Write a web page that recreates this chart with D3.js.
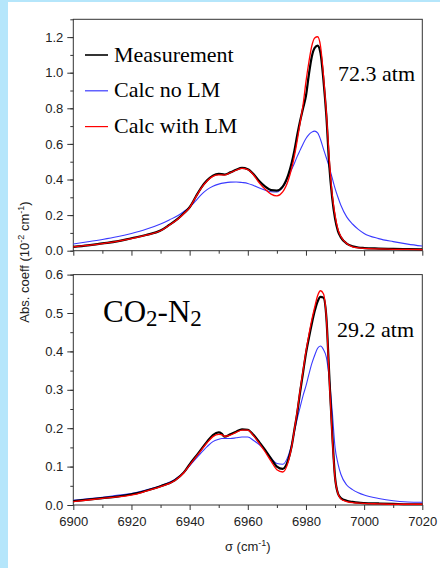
<!DOCTYPE html>
<html>
<head>
<meta charset="utf-8">
<script src="https://cdn.jsdelivr.net/npm/d3@7"></script>
<style>
  body { margin: 0; background: #fff; }
  svg { display: block; }
</style>
</head>
<body>
<div id="chart"></div>
<script>
// Wavenumber grid (cm-1) and absorption values (10^-2 cm-1)
var topX = [6900, 6905, 6910, 6915, 6920, 6925, 6930, 6933, 6936, 6938, 6940, 6942, 6944, 6946, 6948, 6950, 6952, 6954, 6956, 6958, 6960, 6962, 6964, 6966, 6968, 6970, 6972, 6974, 6976, 6977, 6978, 6979, 6980, 6981, 6982, 6983, 6984, 6985, 6986, 6987, 6988, 6989, 6990, 6991, 6992, 6994, 6996, 6998, 7000, 7005, 7010, 7015, 7020];
var topMeas = [0.022, 0.030, 0.041, 0.052, 0.070, 0.088, 0.113, 0.145, 0.180, 0.210, 0.244, 0.300, 0.355, 0.395, 0.422, 0.432, 0.428, 0.440, 0.455, 0.465, 0.458, 0.430, 0.390, 0.360, 0.340, 0.338, 0.360, 0.430, 0.560, 0.650, 0.730, 0.800, 0.870, 0.990, 1.090, 1.140, 1.152, 1.110, 0.960, 0.760, 0.480, 0.300, 0.180, 0.110, 0.075, 0.040, 0.025, 0.018, 0.015, 0.012, 0.010, 0.009, 0.008];
var topNoLM = [0.038, 0.050, 0.063, 0.078, 0.097, 0.120, 0.150, 0.173, 0.198, 0.220, 0.244, 0.278, 0.315, 0.343, 0.362, 0.374, 0.381, 0.385, 0.386, 0.383, 0.378, 0.366, 0.352, 0.340, 0.331, 0.330, 0.358, 0.420, 0.490, 0.530, 0.565, 0.600, 0.630, 0.652, 0.666, 0.672, 0.662, 0.625, 0.572, 0.522, 0.470, 0.410, 0.350, 0.300, 0.255, 0.190, 0.150, 0.120, 0.097, 0.068, 0.051, 0.037, 0.026];
var topWithLM = [0.022, 0.030, 0.040, 0.052, 0.068, 0.087, 0.112, 0.143, 0.178, 0.208, 0.242, 0.298, 0.352, 0.392, 0.418, 0.426, 0.425, 0.438, 0.452, 0.462, 0.455, 0.425, 0.380, 0.345, 0.318, 0.308, 0.330, 0.400, 0.530, 0.620, 0.720, 0.820, 0.950, 1.060, 1.150, 1.195, 1.202, 1.150, 0.990, 0.780, 0.520, 0.320, 0.200, 0.120, 0.080, 0.040, 0.022, 0.016, 0.013, 0.010, 0.008, 0.007, 0.006];

var botX = [6900, 6905, 6910, 6915, 6920, 6922, 6925, 6930, 6935, 6938, 6940, 6943, 6946, 6948, 6950, 6951, 6952, 6954, 6956, 6958, 6960, 6962, 6964, 6966, 6968, 6970, 6972, 6974, 6975, 6976, 6977, 6978, 6979, 6980, 6981, 6982, 6983, 6984, 6985, 6986, 6987, 6988, 6989, 6990, 6991, 6992, 6994, 6996, 6998, 7000, 7005, 7010, 7015, 7020];
var botMeas = [0.010, 0.014, 0.018, 0.022, 0.028, 0.031, 0.037, 0.049, 0.065, 0.085, 0.106, 0.135, 0.165, 0.182, 0.189, 0.186, 0.178, 0.184, 0.191, 0.197, 0.196, 0.182, 0.163, 0.143, 0.121, 0.100, 0.094, 0.120, 0.150, 0.195, 0.240, 0.295, 0.345, 0.395, 0.435, 0.472, 0.505, 0.530, 0.542, 0.540, 0.490, 0.340, 0.190, 0.072, 0.030, 0.018, 0.011, 0.008, 0.006, 0.005, 0.004, 0.003, 0.002, 0.002];
var botNoLM = [0.012, 0.016, 0.020, 0.025, 0.030, 0.033, 0.039, 0.050, 0.067, 0.085, 0.102, 0.128, 0.152, 0.165, 0.171, 0.173, 0.173, 0.173, 0.175, 0.177, 0.177, 0.168, 0.157, 0.142, 0.122, 0.108, 0.106, 0.130, 0.155, 0.190, 0.225, 0.255, 0.285, 0.310, 0.340, 0.368, 0.390, 0.408, 0.414, 0.405, 0.385, 0.330, 0.247, 0.150, 0.108, 0.080, 0.052, 0.040, 0.032, 0.026, 0.017, 0.011, 0.008, 0.007];
var botWithLM = [0.009, 0.013, 0.017, 0.021, 0.026, 0.029, 0.036, 0.048, 0.064, 0.084, 0.104, 0.133, 0.162, 0.178, 0.184, 0.183, 0.179, 0.182, 0.189, 0.195, 0.195, 0.180, 0.160, 0.138, 0.114, 0.092, 0.086, 0.115, 0.148, 0.195, 0.245, 0.300, 0.350, 0.400, 0.443, 0.482, 0.515, 0.545, 0.558, 0.550, 0.490, 0.330, 0.180, 0.070, 0.030, 0.016, 0.009, 0.006, 0.005, 0.004, 0.003, 0.002, 0.002, 0.002];

var xTicks = [6900, 6920, 6940, 6960, 6980, 7000, 7020];
var topYTicks = [0.0, 0.2, 0.4, 0.6, 0.8, 1.0, 1.2];
var botYTicks = [0.0, 0.1, 0.2, 0.3, 0.4, 0.5, 0.6];
var seriesNames = ["Measurement", "Calc no LM", "Calc with LM"];
var seriesColors = ["#000000", "#3a3aff", "#ff0000"];

var width = 440, height = 568;
var left = 73.3, right = 422.3;

var svg = d3.select("#chart").append("svg")
    .attr("width", width)
    .attr("height", height);

// light blue page border
svg.append("rect").attr("x", 0).attr("y", 0).attr("width", 8).attr("height", height).attr("fill", "#b5e6fb");
svg.append("rect").attr("x", 0).attr("y", 0).attr("width", width).attr("height", 2).attr("fill", "#b5e6fb");

var x = d3.scaleLinear().domain([6900, 7020]).range([left, right]);

var panels = [
    { xs: topX, ys: [topMeas, topNoLM, topWithLM], top: 19.3, bottom: 250.7, max: 1.3, ticks: topYTicks, minor: 0.1, xLabels: false },
    { xs: botX, ys: [botMeas, botNoLM, botWithLM], top: 274.6, bottom: 505, max: 0.6, ticks: botYTicks, minor: 0.05, xLabels: true }
];

var axisFont = "'Liberation Sans', Arial, sans-serif";
var serif = "'Liberation Serif', 'Times New Roman', serif";

panels.forEach(function(p) {
    var y = d3.scaleLinear().domain([0, p.max]).range([p.bottom, p.top]);
    var g = svg.append("g");

    // frame
    g.append("rect")
        .attr("x", left).attr("y", p.top)
        .attr("width", right - left).attr("height", p.bottom - p.top)
        .attr("fill", "none").attr("stroke", "#333").attr("stroke-width", 1);

    // minor y ticks
    var minorY = d3.range(0, p.max + 1e-9, p.minor);
    g.append("g")
        .attr("transform", `translate(${left},0)`)
        .call(d3.axisLeft(y).tickValues(minorY).tickSize(3).tickFormat(""))
        .call(a => a.select(".domain").remove());
    // major y ticks
    g.append("g")
        .attr("transform", `translate(${left},0)`)
        .call(d3.axisLeft(y).tickValues(p.ticks).tickSize(6).tickPadding(4).tickFormat(d3.format(".1f")))
        .call(a => a.select(".domain").remove())
        .call(a => a.selectAll("text").style("font-family", axisFont).style("font-size", "13px").attr("fill", "#222"));

    // x ticks
    g.append("g")
        .attr("transform", `translate(0,${p.bottom})`)
        .call(d3.axisBottom(x).tickValues(d3.range(6910, 7020, 20)).tickSize(3).tickFormat(""))
        .call(a => a.select(".domain").remove());
    g.append("g")
        .attr("transform", `translate(0,${p.bottom})`)
        .call(d3.axisBottom(x).tickValues(xTicks).tickSize(5).tickPadding(7)
            .tickFormat(p.xLabels ? d3.format("d") : ""))
        .call(a => a.select(".domain").remove())
        .call(a => a.selectAll("text").style("font-family", axisFont).style("font-size", "13px").attr("fill", "#222"));

    g.selectAll(".tick line").attr("stroke", "#333");

    var line = d3.line()
        .x((d, i) => x(p.xs[i]))
        .y(d => y(d))
        .curve(d3.curveMonotoneX);

    // draw blue first, then black, then red on top
    [1, 0, 2].forEach(function(k) {
        g.append("path")
            .datum(p.ys[k])
            .attr("d", line)
            .attr("fill", "none")
            .attr("stroke", seriesColors[k])
            .attr("stroke-width", k === 0 ? 2.2 : (k === 2 ? 1.3 : 1.1));
    });
});

// legend
seriesNames.forEach(function(name, i) {
    var ly = 55 + i * 35.8;
    svg.append("line")
        .attr("x1", 85).attr("x2", 108).attr("y1", ly).attr("y2", ly)
        .attr("stroke", seriesColors[i]).attr("stroke-width", i === 0 ? 1.6 : 1.2);
    svg.append("text")
        .attr("x", 114).attr("y", ly + 6.5)
        .style("font-family", serif).style("font-size", "22px")
        .text(name);
});

svg.append("text").attr("x", 338).attr("y", 81)
    .style("font-family", serif).style("font-size", "22px").text("72.3 atm");
svg.append("text").attr("x", 337).attr("y", 337)
    .style("font-family", serif).style("font-size", "22px").text("29.2 atm");

var co2 = svg.append("text").attr("x", 103).attr("y", 322)
    .style("font-family", serif).style("font-size", "31px");
co2.append("tspan").text("CO");
co2.append("tspan").attr("dy", 4).style("font-size", "23px").text("2");
co2.append("tspan").attr("dy", -4).text("-N");
co2.append("tspan").attr("dy", 4).style("font-size", "23px").text("2");

// axis titles
var xt = svg.append("text").attr("x", (left + right) / 2).attr("y", 551)
    .attr("text-anchor", "middle")
    .style("font-family", axisFont).style("font-size", "13px").attr("fill", "#222");
xt.append("tspan").text("σ (cm");
xt.append("tspan").attr("dy", -5).style("font-size", "9px").text("-1");
xt.append("tspan").attr("dy", 5).text(")");

var yt = svg.append("text")
    .attr("transform", "translate(29,262) rotate(-90)")
    .attr("text-anchor", "middle")
    .style("font-family", axisFont).style("font-size", "13px").attr("fill", "#222");
yt.append("tspan").text("Abs. coeff (10");
yt.append("tspan").attr("dy", -5).style("font-size", "9px").text("-2");
yt.append("tspan").attr("dy", 5).text(" cm");
yt.append("tspan").attr("dy", -5).style("font-size", "9px").text("-1");
yt.append("tspan").attr("dy", 5).text(")");
</script>
</body>
</html>
